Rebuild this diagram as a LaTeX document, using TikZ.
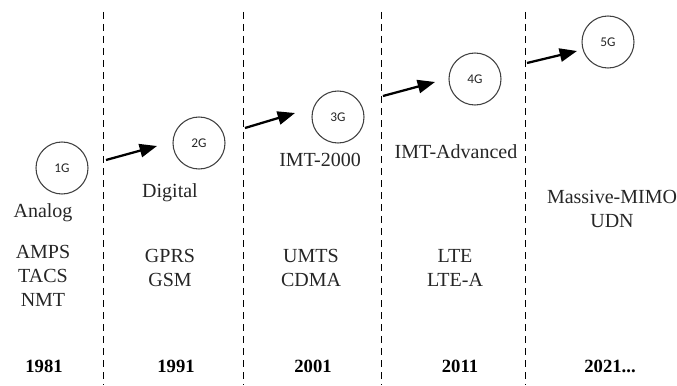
\documentclass[tikz,border=0pt]{standalone}
\usepackage{fontspec}
\setmainfont{Liberation Serif}
\newfontfamily\glabel{Carlito}
\usetikzlibrary{arrows.meta}
\begin{document}
\begin{tikzpicture}[x=0.75pt,y=-0.75pt,
  gen/.style={circle,draw=black!75,line width=0.8pt,minimum size=39pt,inner sep=0pt,font=\glabel\fontsize{10}{12}\selectfont,text=black!85},
  sep/.style={line width=0.7pt,dash pattern=on 5.5pt off 3.5pt},
  adv/.style={-{Triangle[length=13pt,width=10pt]},line width=1.7pt},
  lbl/.style={font=\fontsize{15}{18}\selectfont,align=center,text=black!85,inner sep=0pt},
  yr/.style={font=\fontsize{14}{16}\selectfont\bfseries,inner sep=0pt}]
\useasboundingbox (0,0) rectangle (677,385);
\foreach \x/\n in {103/s1,243/s2,381/s3,525/s4}{
  \coordinate (\n t) at (\x,12); \coordinate (\n b) at (\x,385);
  \draw[sep] (\n t) -- (\n b);}
\node[gen] (g1) at (62,168) {1G};
\node[gen] (g2) at (199,143) {2G};
\node[gen] (g3) at (338,117) {3G};
\node[gen] (g4) at (475,79) {4G};
\node[gen] (g5) at (608,42) {5G};
\coordinate (a1s) at (106,160); \coordinate (a1e) at (157,146);
\coordinate (a2s) at (245,128); \coordinate (a2e) at (295,113);
\coordinate (a3s) at (383,96); \coordinate (a3e) at (435,82);
\coordinate (a4s) at (527,63); \coordinate (a4e) at (577,51);
\draw[adv] (a1s) -- (a1e);
\draw[adv] (a2s) -- (a2e);
\draw[adv] (a3s) -- (a3e);
\draw[adv] (a4s) -- (a4e);
\node[lbl] (t1) at (43,213) {Analog};
\node[lbl] (t2) at (170,193) {Digital};
\node[lbl] (t3) at (320,160) {IMT-2000};
\node[lbl] (t4) at (456,152) {IMT-Advanced};
\node[lbl] (t5) at (612,209) {Massive-MIMO\\UDN};
\node[lbl] (p1) at (43,276) {AMPS\\TACS\\NMT};
\node[lbl] (p2) at (170,268) {GPRS\\GSM};
\node[lbl] (p3) at (311,268) {UMTS\\CDMA};
\node[lbl] (p4) at (455,268) {LTE\\LTE-A};
\node[yr] (y1) at (44,366) {1981};
\node[yr] (y2) at (176,366) {1991};
\node[yr] (y3) at (313,366) {2001};
\node[yr] (y4) at (460,366) {2011};
\node[yr] (y5) at (610,366) {2021...};
\end{tikzpicture}
\end{document}
